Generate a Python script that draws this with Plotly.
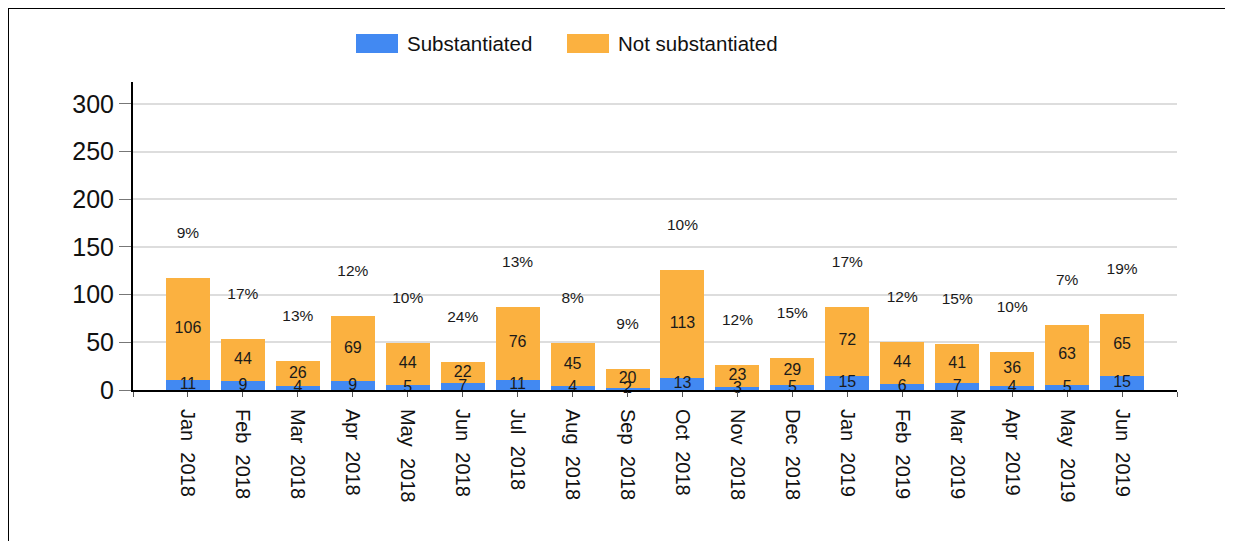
import plotly.graph_objects as go

months = ["Jan 2018", "Feb 2018", "Mar 2018", "Apr 2018", "May 2018", "Jun 2018",
          "Jul 2018", "Aug 2018", "Sep 2018", "Oct 2018", "Nov 2018", "Dec 2018",
          "Jan 2019", "Feb 2019", "Mar 2019", "Apr 2019", "May 2019", "Jun 2019"]
substantiated = [11, 9, 4, 9, 5, 7, 11, 4, 2, 13, 3, 5, 15, 6, 7, 4, 5, 15]
not_substantiated = [106, 44, 26, 69, 44, 22, 76, 45, 20, 113, 23, 29, 72, 44, 41, 36, 63, 65]
y_ticks = [0, 50, 100, 150, 200, 250, 300]

BLUE = "#4289f2"
ORANGE = "#fbb140"
FONT = "Arial, Liberation Sans, sans-serif"

x = list(range(len(months)))
totals = [s + n for s, n in zip(substantiated, not_substantiated)]
pct = [f"{round(100 * s / t)}%" for s, t in zip(substantiated, totals)]

fig = go.Figure()
fig.add_trace(go.Bar(x=x, y=substantiated, marker_color=BLUE, width=0.8,
                     marker_line_width=0, name="Substantiated", showlegend=False))
fig.add_trace(go.Bar(x=x, y=not_substantiated, marker_color=ORANGE, width=0.8,
                     marker_line_width=0, name="Not substantiated", showlegend=False))
# value labels
lab_font = dict(family=FONT, size=16, color="#1a1a1a")
fig.add_trace(go.Scatter(x=x, y=[s / 2 for s in substantiated], mode="text",
                         text=[str(v) for v in substantiated], textfont=lab_font,
                         showlegend=False, hoverinfo="skip", cliponaxis=False))
fig.add_trace(go.Scatter(x=x, y=[s + n / 2 for s, n in zip(substantiated, not_substantiated)],
                         mode="text", text=[str(v) for v in not_substantiated],
                         textfont=lab_font,
                         showlegend=False, hoverinfo="skip", cliponaxis=False))
fig.add_trace(go.Scatter(x=x, y=[t + 46 for t in totals], mode="text", text=pct,
                         textfont=dict(family=FONT, size=15.5, color="#1a1a1a"),
                         showlegend=False, hoverinfo="skip", cliponaxis=False))

W, H = 1233, 541
L, R, T, B = 125, 64, 74, 159
pw, ph = W - L - R, H - T - B

def px(xp):
    return (xp - L) / pw

def py(yp):
    return (H - B - yp) / ph

shapes = [
    # outer frame
    dict(type="rect", xref="paper", yref="paper", x0=px(0), x1=px(1230), y0=py(0), y1=-2,
         line=dict(color="black", width=2), fillcolor="rgba(0,0,0,0)", layer="below"),
    # legend swatches
    dict(type="rect", xref="paper", yref="paper", x0=px(348), x1=px(390), y0=py(26), y1=py(45),
         line_width=0, fillcolor=BLUE),
    dict(type="rect", xref="paper", yref="paper", x0=px(559), x1=px(601), y0=py(26), y1=py(45),
         line_width=0, fillcolor=ORANGE),
]
annotations = [
    dict(xref="paper", yref="paper", x=px(399), y=py(35.5), text="Substantiated",
         showarrow=False, xanchor="left", yanchor="middle", xshift=-2,
         font=dict(family=FONT, size=20.5, color="#111")),
    dict(xref="paper", yref="paper", x=px(610), y=py(35.5), text="Not substantiated",
         showarrow=False, xanchor="left", yanchor="middle", xshift=-2,
         font=dict(family=FONT, size=20.5, color="#111")),
]

fig.update_layout(
    barmode="stack",
    width=W, height=H,
    margin=dict(l=L, r=R, t=T, b=B, pad=0),
    plot_bgcolor="white", paper_bgcolor="white",
    shapes=shapes, annotations=annotations,
    showlegend=False,
    font=dict(family=FONT, color="#111"),
    xaxis=dict(range=[-1, len(months)], tickmode="array",
               tickvals=list(range(-1, len(months) + 1)),
               ticktext=[""] + [m.replace(" ", "\u00a0\u00a0") for m in months] + [""],
               tickangle=90, tickfont=dict(family=FONT, size=20, color="#111"),
               ticks="outside", ticklen=5, tickcolor="#555", tickwidth=1,
               ticklabelstandoff=8,
               showline=True, linecolor="black", linewidth=2,
               showgrid=False, zeroline=False, fixedrange=True),
    yaxis=dict(range=[0, 323], tickmode="array", tickvals=y_ticks,
               tickfont=dict(family=FONT, size=25, color="#111"),
               ticks="outside", ticklen=12, tickcolor="#777", tickwidth=1,
               showline=True, linecolor="black", linewidth=2,
               showgrid=True, gridcolor="#dddddd", gridwidth=2,
               zeroline=False, fixedrange=True),
)

fig.write_html("out.html")
